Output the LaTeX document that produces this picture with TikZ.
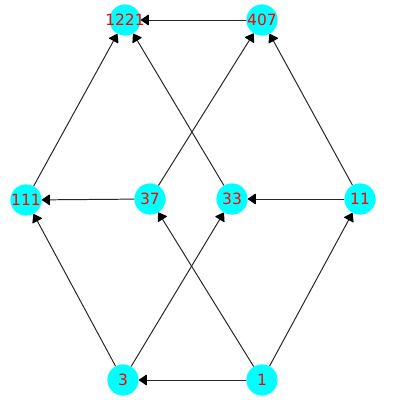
\documentclass[tikz,border=0pt]{standalone}
\usepackage{fontspec}
\setmainfont{DejaVu Sans}
\usetikzlibrary{arrows.meta}
\definecolor{nodecyan}{RGB}{0,255,255}

\begin{document}
\begin{tikzpicture}[
        x=0.025cm, y=-0.025cm,
        vertex/.style={circle, fill=nodecyan, minimum size=0.78cm, inner sep=0pt,
            text=red, font=\fontsize{11}{13}\selectfont},
        edge/.style={-{Triangle[length=6pt, width=8pt, round, black]}, line width=0.7pt, black!85},
    ]
        \useasboundingbox (0,0) rectangle (400,400);

        % Top row
        \node[vertex] (n1221) at (125, 20) {\makebox[0pt]{1221}};
        \node[vertex] (n407) at (262, 20) {\makebox[0pt]{407}};

        % Middle row
        \node[vertex] (n111) at (26, 200) {\makebox[0pt]{111}};
        \node[vertex] (n37) at (150, 199) {\makebox[0pt]{37}};
        \node[vertex] (n33) at (232, 199) {\makebox[0pt]{33}};
        \node[vertex] (n11) at (360, 199) {\makebox[0pt]{11}};

        % Bottom row
        \node[vertex] (n3) at (123, 380) {\makebox[0pt]{3}};
        \node[vertex] (n1) at (262, 380) {\makebox[0pt]{1}};

        % Edges
        \draw[edge] (n407) -- (n1221);
        \draw[edge] (n111) -- (n1221);
        \draw[edge] (n33) -- (n1221);
        \draw[edge] (n37) -- (n407);
        \draw[edge] (n11) -- (n407);
        \draw[edge] (n37) -- (n111);
        \draw[edge] (n11) -- (n33);
        \draw[edge] (n3) -- (n111);
        \draw[edge] (n3) -- (n33);
        \draw[edge] (n1) -- (n3);
        \draw[edge] (n1) -- (n37);
        \draw[edge] (n1) -- (n11);
    \end{tikzpicture}
\end{document}
